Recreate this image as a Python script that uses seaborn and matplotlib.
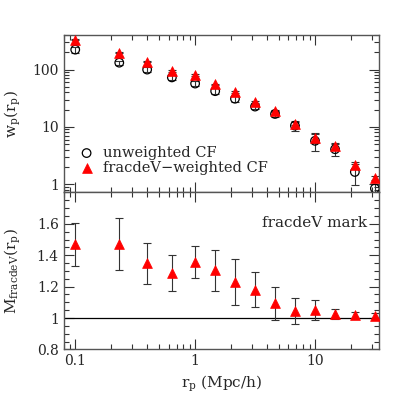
import numpy as np
import pandas as pd
import matplotlib
matplotlib.use("Agg")
import matplotlib.pyplot as plt
import seaborn as sns
from matplotlib.ticker import LogLocator, MultipleLocator, FixedLocator, FixedFormatter, NullFormatter

# --- data ---
rp = [0.1, 0.233, 0.398, 0.64, 1.0, 1.47, 2.15, 3.16, 4.64, 6.8, 10.0, 14.7, 21.5, 31.6]

wp_unw = [223, 132, 100, 73, 57, 42, 31, 22.6, 16.8, 10.5, 5.7, 4.07, 1.63, 0.84]
wp_unw_err = [25, 12, 10, 8, 6, 5, 3.5, 2.5, 2.0, 2.0, 1.9, 1.0, 0.65, 0.15]

wp_w = [334, 198, 138, 95, 80, 55, 40, 27, 19, 11.4, 6.5, 4.66, 2.17, 1.26]
wp_w_err = [8, 5, 4, 3, 3, 2, 1.5, 1, 0.8, 0.8, 1.2, 0.6, 0.25, 0.1]

mark = [1.469, 1.47, 1.348, 1.288, 1.358, 1.305, 1.229, 1.18, 1.093, 1.046, 1.049, 1.024, 1.021, 1.015]
mark_err = [0.138, 0.167, 0.132, 0.116, 0.10, 0.13, 0.146, 0.112, 0.104, 0.084, 0.063, 0.032, 0.02, 0.018]

df = pd.DataFrame({"rp": rp, "unw": wp_unw, "unw_err": wp_unw_err,
                   "w": wp_w, "w_err": wp_w_err, "mark": mark, "mark_err": mark_err})

sns.set_style("ticks")
plt.rcParams["font.family"] = ["DejaVu Serif"]
plt.rcParams["mathtext.fontset"] = "dejavuserif"

fig = plt.figure(figsize=(4.13, 4.13), dpi=100)
ax1 = fig.add_axes([0.154, 0.534, 0.763, 0.381])
ax2 = fig.add_axes([0.154, 0.154, 0.763, 0.380], sharex=ax1)

# --- top panel: projected correlation functions ---
ax1.errorbar(df["rp"], df["unw"], yerr=df["unw_err"], fmt="none", ecolor="#333333",
             elinewidth=0.8, capsize=3, capthick=0.8, zorder=2)
ax1.errorbar(df["rp"], df["w"], yerr=df["w_err"], fmt="none", ecolor="#333333",
             elinewidth=0.8, capsize=3, capthick=0.8, zorder=2)
sns.scatterplot(data=df, x="rp", y="unw", ax=ax1, marker="o", s=38, facecolor="none",
                edgecolor="black", linewidth=0.9, label="unweighted CF", zorder=3)
sns.scatterplot(data=df, x="rp", y="w", ax=ax1, marker="^", s=50, color="red",
                edgecolor="red", linewidth=0.5, label="fracdeV\u2212weighted CF", zorder=4)
ax1.set_xscale("log")
ax1.set_yscale("log")
ax1.set_xlim(0.08, 34)
ax1.set_ylim(0.715, 400)
ax1.set_xlabel("")
ax1.set_ylabel(r"w$_\mathregular{p}$(r$_\mathregular{p}$)", fontsize=11)
ax1.yaxis.set_major_locator(FixedLocator([1, 10, 100]))
ax1.yaxis.set_major_formatter(FixedFormatter(["1", "10", "100"]))
ax1.tick_params(labelbottom=False)
leg = ax1.legend(loc="lower left", bbox_to_anchor=(-0.015, 0.03), frameon=False,
                 fontsize=10.5, handletextpad=0.1, labelspacing=0.05, borderaxespad=0.5)

# --- bottom panel: mark ---
ax2.axhline(1.0, color="black", linewidth=0.9, zorder=1)
ax2.errorbar(df["rp"], df["mark"], yerr=df["mark_err"], fmt="none", ecolor="#333333",
             elinewidth=0.8, capsize=3, capthick=0.8, zorder=2)
sns.scatterplot(data=df, x="rp", y="mark", ax=ax2, marker="^", s=50, color="red",
                edgecolor="red", linewidth=0.5, zorder=4, legend=False)
ax2.set_ylim(0.8, 1.8)
ax2.yaxis.set_major_locator(FixedLocator([0.8, 1.0, 1.2, 1.4, 1.6]))
ax2.yaxis.set_major_formatter(FixedFormatter(["0.8", "1", "1.2", "1.4", "1.6"]))
ax2.yaxis.set_minor_locator(MultipleLocator(0.05))
ax2.set_xlabel(r"r$_\mathregular{p}$ (Mpc/h)", fontsize=11)
ax2.set_ylabel(r"M$_\mathregular{fracdeV}$(r$_\mathregular{p}$)", fontsize=11)
ax2.xaxis.set_major_locator(FixedLocator([0.1, 1, 10]))
ax2.xaxis.set_major_formatter(FixedFormatter(["0.1", "1", "10"]))
ax2.xaxis.set_minor_locator(LogLocator(base=10, subs=np.arange(2, 10)))
ax2.xaxis.set_minor_formatter(NullFormatter())
ax2.text(0.963, 0.806, "fracdeV mark", transform=ax2.transAxes, ha="right",
         va="center", fontsize=11)

for ax in (ax1, ax2):
    ax.tick_params(which="both", direction="in", top=True, right=True,
                   labelsize=10, color="#333333")
    ax.tick_params(which="major", length=7, width=0.8)
    ax.tick_params(which="minor", length=3.5, width=0.8)
    for sp in ax.spines.values():
        sp.set_visible(True)
        sp.set_linewidth(1.0)
        sp.set_color("#555555")

ax1.yaxis.set_label_coords(-0.13, 0.5)
ax2.yaxis.set_label_coords(-0.13, 0.5)

fig.savefig("out.png", dpi=100)
